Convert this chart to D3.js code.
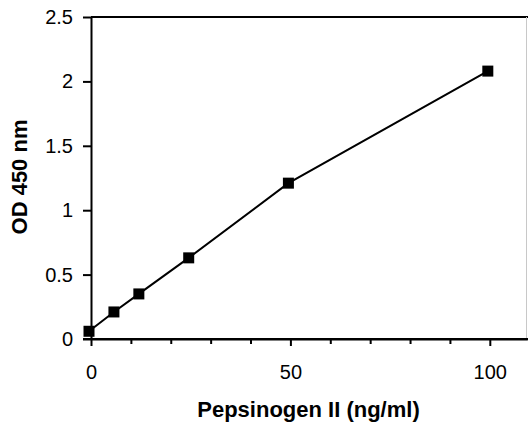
<!DOCTYPE html>
<html>
<head>
<meta charset="utf-8">
<script src="https://cdn.jsdelivr.net/npm/d3@7"></script>
<style>
  body { margin: 0; background: #fff; }
  svg { display: block; font-family: "Liberation Sans", Arial, sans-serif; }
</style>
</head>
<body>
<div id="chart"></div>
<script>
// standard curve values
const concentrations = [0, 6.25, 12.5, 25, 50, 100];
const odValues = [0.06, 0.21, 0.35, 0.63, 1.21, 2.08];
const xMajorTicks = [0, 50, 100];
const xMinorTicks = [10, 20, 30, 40, 60, 70, 80, 90];
const yTicks = [0, 0.5, 1, 1.5, 2, 2.5];

const width = 528, height = 426;

const svg = d3.select('#chart')
  .append('svg')
  .attr('width', width)
  .attr('height', height);

const x = d3.scaleLinear()
  .domain([0, 109.4])
  .range([91, 527.3]);

const y = d3.scaleLinear()
  .domain([0, 2.5])
  .range([339, 17]);

// frame: top line + faint right edge
svg.append('line')
  .attr('x1', x(0)).attr('x2', width)
  .attr('y1', y(2.5)).attr('y2', y(2.5))
  .attr('stroke', '#000').attr('stroke-width', 2);

svg.append('line')
  .attr('x1', 526.5).attr('x2', 526.5)
  .attr('y1', y(2.5)).attr('y2', y(0))
  .attr('stroke', '#c8c8c8').attr('stroke-width', 1);

// x axis, minor ticks first
svg.append('g')
  .attr('transform', `translate(0,${y(0)})`)
  .call(d3.axisBottom(x).tickValues(xMinorTicks).tickSize(5).tickSizeOuter(0).tickFormat(''))
  .call(g => g.selectAll('line, path').attr('stroke', '#000').attr('stroke-width', 2));

const xAxis = svg.append('g')
  .attr('transform', `translate(0,${y(0)})`)
  .call(d3.axisBottom(x).tickValues(xMajorTicks).tickSize(7).tickSizeOuter(0).tickFormat(d3.format('d')));

xAxis.selectAll('line, path').attr('stroke', '#000').attr('stroke-width', 2);
xAxis.select('.domain').attr('d', `M${x(0) - 8},0H${width}`);
xAxis.selectAll('text')
  .attr('y', 26)
  .attr('dy', '0.71em')
  .style('font-size', '20px')
  .style('font-family', '"Liberation Sans", Arial, sans-serif')
  .attr('fill', '#000');

// y axis
const yAxis = svg.append('g')
  .attr('transform', `translate(${x(0)},0)`)
  .call(d3.axisLeft(y).tickValues(yTicks).tickSize(8).tickSizeOuter(0).tickPadding(10).tickFormat(d => d));

yAxis.selectAll('line, path').attr('stroke', '#000').attr('stroke-width', 2);
yAxis.selectAll('text')
  .style('font-size', '20px')
  .style('font-family', '"Liberation Sans", Arial, sans-serif')
  .attr('fill', '#000');

// curve (the original plots markers a couple of px left of the ticks)
const points = concentrations.map((c, i) => [c, odValues[i]]);
const series = svg.append('g').attr('transform', 'translate(-2,0)');

series.append('path')
  .datum(points)
  .attr('fill', 'none')
  .attr('stroke', '#000')
  .attr('stroke-width', 2)
  .attr('d', d3.line().x(d => x(d[0])).y(d => y(d[1])));

const m = 11;
series.selectAll('rect.pt')
  .data(points)
  .enter()
  .append('rect')
  .attr('class', 'pt')
  .attr('x', d => x(d[0]) - m / 2)
  .attr('y', d => y(d[1]) - m / 2)
  .attr('width', m)
  .attr('height', m)
  .attr('fill', '#000');

// titles
svg.append('text')
  .attr('x', 308.5)
  .attr('y', 417)
  .attr('text-anchor', 'middle')
  .style('font-size', '22px')
  .style('font-weight', 'bold')
  .text('Pepsinogen II (ng/ml)');

svg.append('text')
  .attr('transform', 'translate(27,177) rotate(-90)')
  .attr('text-anchor', 'middle')
  .style('font-size', '22px')
  .style('font-weight', 'bold')
  .text('OD 450 nm');
</script>
</body>
</html>
